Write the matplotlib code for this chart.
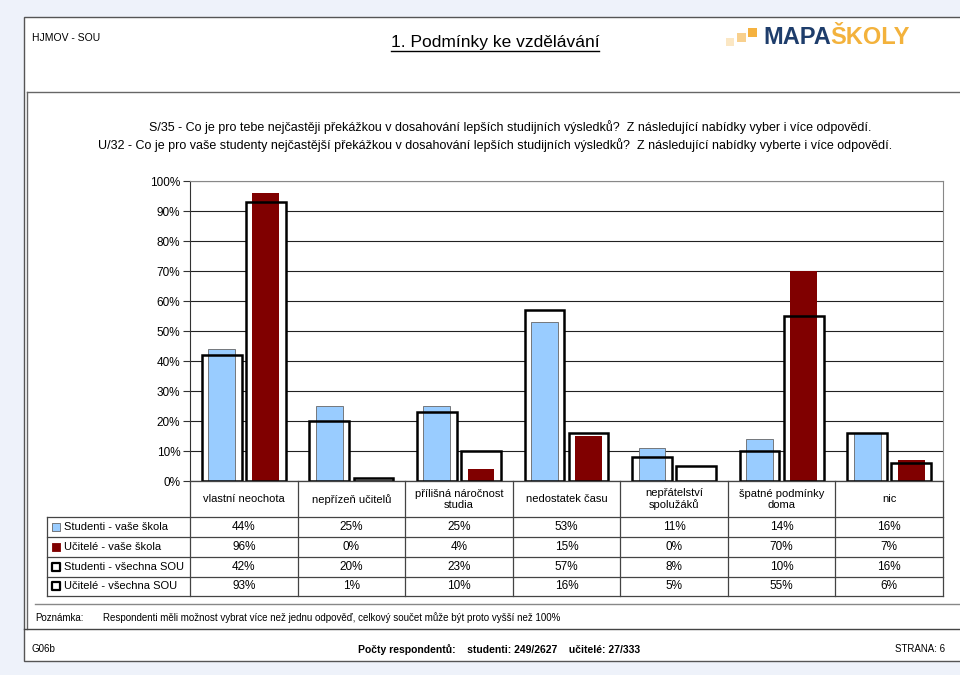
import numpy as np
import matplotlib
matplotlib.use("Agg")
import matplotlib.pyplot as plt
from matplotlib.patches import Rectangle
from matplotlib.lines import Line2D

plt.rcParams['font.family'] = ['Liberation Sans', 'DejaVu Sans']

# --- data ---
categories = ["vlastní neochota", "nepřízeň učitelů", "přílišná náročnost\nstudia",
              "nedostatek času", "nepřátelství\nspolužáků", "špatné podmínky\ndoma", "nic"]
series_names = ["Studenti - vaše škola", "Učitelé - vaše škola",
                "Studenti - všechna SOU", "Učitelé - všechna SOU"]
stud_skola = [44, 25, 25, 53, 11, 14, 16]
ucit_skola = [96, 0, 4, 15, 0, 70, 7]
stud_sou = [42, 20, 23, 57, 8, 10, 16]
ucit_sou = [93, 1, 10, 16, 5, 55, 6]
yticks = list(range(0, 101, 10))

question_1 = ("S/35 - Co je pro tebe nejčastěji překážkou v dosahování lepších studijních výsledků?  "
              "Z následující nabídky vyber i více odpovědí.")
question_2 = ("U/32 - Co je pro vaše studenty nejčastější překážkou v dosahování lepších studijních výsledků?  "
              "Z následující nabídky vyberte i více odpovědí.")

W, H = 960, 675
fig = plt.figure(figsize=(W / 100, H / 100), dpi=100)
fig.patch.set_facecolor("#eef2fa")


def fx(x):
    return x / W


def fy(y):
    return 1 - y / H


def hline(x0, x1, y, color="#555555", lw=1.0):
    fig.add_artist(Line2D([fx(x0), fx(x1)], [fy(y), fy(y)], color=color, lw=lw,
                          transform=fig.transFigure))


def vline(x, y0, y1, color="#555555", lw=1.0):
    fig.add_artist(Line2D([fx(x), fx(x)], [fy(y0), fy(y1)], color=color, lw=lw,
                          transform=fig.transFigure))


# page
fig.add_artist(Rectangle((fx(24), fy(661)), fx(990 - 24), (661 - 17) / H,
                         transform=fig.transFigure, facecolor="white",
                         edgecolor="#555555", lw=1.0, zorder=0))
hline(27, 965, 92, "#666666")
vline(27, 92, 629, "#666666")
hline(35, 965, 604, "#888888")
hline(24, 965, 629, "#444444")

# header
fig.text(fx(32), fy(38), "HJMOV - SOU", fontsize=7.5, va="center", ha="left")
t = fig.text(fx(495), fy(42), "1. Podmínky ke vzdělávání", fontsize=12.5,
             va="center", ha="center")
fig.canvas.draw()
bb = t.get_window_extent()
fig.add_artist(Line2D([bb.x0 / W, bb.x1 / W], [bb.y0 / H - 0.002, bb.y0 / H - 0.002],
                      color="black", lw=1.0, transform=fig.transFigure))

# logo
for (x0, y0, s, c) in [(726, 38, 8, "#fbe7c4"), (737, 33, 9, "#f8d08e"), (748, 28, 9, "#f5b240")]:
    fig.add_artist(Rectangle((fx(x0), fy(y0 + s)), s / W, s / H, transform=fig.transFigure,
                             facecolor=c, edgecolor="none"))
lg = fig.text(fx(763), fy(38), "MAPA", fontsize=17, fontweight="bold", color="#1e3d6b",
              va="center", ha="left")
fig.canvas.draw()
bb = lg.get_window_extent()
fig.text(bb.x1 / W, fy(38), "ŠKOLY", fontsize=17, fontweight="bold", color="#f3b23c",
         va="center", ha="left")

# questions
fig.text(fx(510), fy(127), question_1, fontsize=9, ha="center", va="center")
fig.text(fx(495), fy(145), question_2, fontsize=9, ha="center", va="center")

# --- chart ---
ax = fig.add_axes([fx(190), fy(481), (943 - 190) / W, (481 - 181) / H])
x = np.arange(len(categories))
off = 0.205
w_out, w_in = 0.37, 0.25

ax.bar(x - off, stud_sou, w_out, color="white", edgecolor="none", zorder=2)
ax.bar(x + off, ucit_sou, w_out, color="white", edgecolor="none", zorder=2)
ax.bar(x - off, stud_skola, w_in, color="#99ccff", edgecolor="#666666", lw=0.6, zorder=3)
ax.bar(x + off, ucit_skola, w_in, color="#800000", edgecolor="none", zorder=3)
ax.bar(x - off, stud_sou, w_out, color="none", edgecolor="black", lw=1.8, zorder=4)
ax.bar(x + off, ucit_sou, w_out, color="none", edgecolor="black", lw=1.8, zorder=4)

ax.set_xlim(-0.5, len(categories) - 0.5)
ax.set_ylim(0, 100)
ax.set_yticks(yticks)
ax.set_yticklabels([f"{v}%" for v in yticks], fontsize=8.5)
ax.set_xticks([])
ax.grid(axis="y", color="#222222", lw=0.8, zorder=1)
ax.set_axisbelow(True)
ax.tick_params(axis="y", length=5, width=0.8, color="#333333", pad=2)
for side in ["top", "right", "bottom"]:
    ax.spines[side].set_color("#888888")
    ax.spines[side].set_linewidth(0.8)
ax.spines["left"].set_color("#333333")
ax.spines["left"].set_linewidth(0.8)
ax.patch.set_alpha(0)

# --- data table ---
leg_w = (190 - 47) / ((943 - 190) / len(categories))
tab = fig.add_axes([fx(47), fy(596), (943 - 47) / W, (596 - 481) / H])
tab.set_xlim(-0.5 - leg_w, len(categories) - 0.5)
row_h = [36, 20, 19, 20, 19]
edges = np.concatenate([[0], np.cumsum(row_h)])
tab.set_ylim(edges[-1], 0)
tab.axis("off")
lc = "#444444"
xl = -0.5 - leg_w
xr = len(categories) - 0.5
for e in edges:
    x0 = -0.5 if e == 0 else xl
    tab.plot([x0, xr], [e, e], color=lc, lw=0.9, clip_on=False)
for b in np.arange(-0.5, len(categories), 1.0):
    tab.plot([b, b], [0, edges[-1]], color=lc, lw=0.9, clip_on=False)
tab.plot([xl, xl], [edges[1], edges[-1]], color=lc, lw=0.9, clip_on=False)

for i, c in enumerate(categories):
    tab.text(i, edges[1] / 2, c, ha="center", va="center", fontsize=8, linespacing=1.1)

rows = [stud_skola, ucit_skola, stud_sou, ucit_sou]
markers = [("#99ccff", "#666666", 0.6), ("#800000", "#800000", 0.6),
           ("white", "black", 1.6), ("white", "black", 1.6)]
for r, (vals, name, (fc, ec, lw)) in enumerate(zip(rows, series_names, markers)):
    yc = (edges[r + 1] + edges[r + 2]) / 2
    tab.scatter([xl + 0.08], [yc], s=28, marker="s", facecolor=fc, edgecolor=ec,
                linewidths=lw, clip_on=False, zorder=5)
    tab.text(xl + 0.16, yc, name, ha="left", va="center", fontsize=8)
    for i, v in enumerate(vals):
        tab.text(i, yc, f"{v}%", ha="center", va="center", fontsize=8.5)

# note and footer
fig.text(fx(35), fy(618), "Poznámka:", fontsize=7, va="center", ha="left")
fig.text(fx(103), fy(618), "Respondenti měli možnost vybrat více než jednu odpověď, "
         "celkový součet může být proto vyšší než 100%", fontsize=7, va="center", ha="left")
fig.text(fx(32), fy(649), "G06b", fontsize=7, va="center", ha="left")
fig.text(fx(358), fy(650), "Počty respondentů:    studenti: 249/2627    učitelé: 27/333",
         fontsize=7.5, fontweight="bold", va="center", ha="left")
fig.text(fx(945), fy(649), "STRANA: 6", fontsize=7, va="center", ha="right")

fig.savefig("out.png", dpi=100)
